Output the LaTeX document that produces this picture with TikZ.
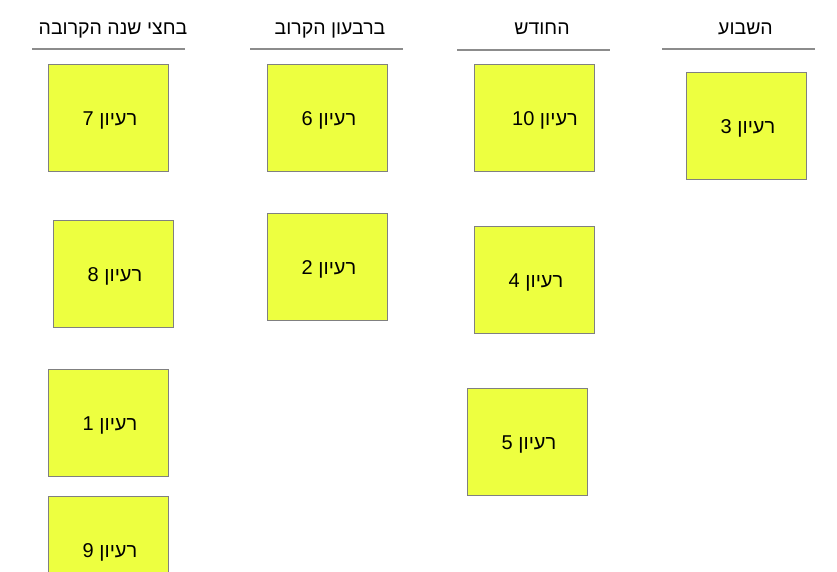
\documentclass[tikz,border=0pt]{standalone}
\usepackage{fontspec}
\setmainfont{Liberation Sans}
\newfontfamily\heb[Script=Hebrew]{Liberation Sans}
\TeXXeTstate=1
\definecolor{stickyfill}{RGB}{237,255,64}
\definecolor{stickyedge}{RGB}{128,128,128}
\definecolor{ruleline}{RGB}{140,140,140}
\newcommand\ideatxt[1]{\heb\beginR רעיון \beginL#1\endL\endR}
\tikzset{
  sticky/.style={draw=stickyedge, fill=stickyfill, line width=1pt, anchor=north west,
    minimum width=120pt, minimum height=107pt, inner sep=0pt},
  ideatext/.style={font=\heb\fontsize{20}{23}\selectfont, inner sep=0pt, anchor=base},
  headtext/.style={font=\heb\fontsize{19.5}{23}\selectfont, inner sep=0pt, anchor=base},
  headrule/.style={draw=ruleline, line width=1.3pt}
}
\begin{document}
\begin{tikzpicture}[x=1pt,y=-1pt]
\useasboundingbox (0,0) rectangle (837,572);
\clip (0,0) rectangle (837,572);
% headers
\node[headtext] (h1) at (113,34.5) {\beginR בחצי שנה הקרובה\endR};
\node[headtext] (h2) at (330,34.5) {\beginR ברבעון הקרוב\endR};
\node[headtext] (h3) at (542,34.5) {\beginR החודש\endR};
\node[headtext] (h4) at (745.5,34.5) {\beginR השבוע\endR};
\coordinate (r1a) at (32,49);  \coordinate (r1b) at (185,49);
\coordinate (r2a) at (250,49); \coordinate (r2b) at (403,49);
\coordinate (r3a) at (457,50); \coordinate (r3b) at (610,50);
\coordinate (r4a) at (662,49); \coordinate (r4b) at (815,49);
\draw[headrule] (r1a) -- (r1b);
\draw[headrule] (r2a) -- (r2b);
\draw[headrule] (r3a) -- (r3b);
\draw[headrule] (r4a) -- (r4b);
% stickies
\node[sticky] (b7) at (48,64) {};
\node[sticky] (b8) at (53,220) {};
\node[sticky] (b1) at (48,369) {};
\node[sticky] (b9) at (48,496) {};
\node[sticky] (b6) at (267,64) {};
\node[sticky] (b2) at (267,213) {};
\node[sticky] (b10) at (474,64) {};
\node[sticky] (b4) at (474,226) {};
\node[sticky] (b5) at (467,388) {};
\node[sticky] (b3) at (686,72) {};
% texts (baseline 61.5 below box top)
\node[ideatext] (t7) at ([shift={(62,61.5)}]b7.north west) {\ideatxt{7}};
\node[ideatext] (t8) at ([shift={(62,61.5)}]b8.north west) {\ideatxt{8}};
\node[ideatext] (t1) at ([shift={(62,61.5)}]b1.north west) {\ideatxt{1}};
\node[ideatext] (t9) at ([shift={(62,61.5)}]b9.north west) {\ideatxt{9}};
\node[ideatext] (t6) at ([shift={(62,61.5)}]b6.north west) {\ideatxt{6}};
\node[ideatext] (t2) at ([shift={(62,61.5)}]b2.north west) {\ideatxt{2}};
\node[ideatext] (t10) at ([shift={(71,61.5)}]b10.north west) {\ideatxt{10}};
\node[ideatext] (t4) at ([shift={(62,61.5)}]b4.north west) {\ideatxt{4}};
\node[ideatext] (t5) at ([shift={(62,61.5)}]b5.north west) {\ideatxt{5}};
\node[ideatext] (t3) at ([shift={(62,61.5)}]b3.north west) {\ideatxt{3}};
\end{tikzpicture}
\end{document}
